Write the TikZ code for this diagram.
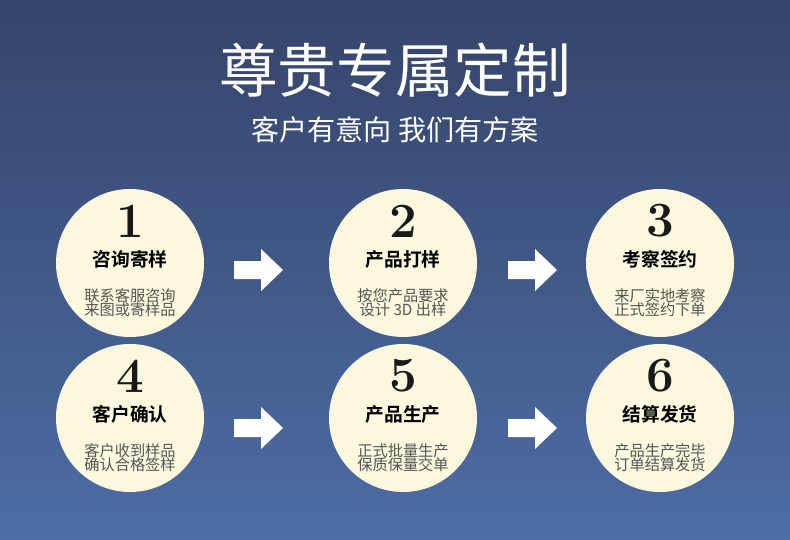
\documentclass[tikz,border=0pt]{standalone}
\usepackage{fontspec}
\usepackage{tikz}
\newfontfamily\cjk{Noto Sans CJK SC}
\newfontfamily\cjkb{Noto Sans CJK SC Bold}
\definecolor{bgtop}{HTML}{35446A}
\definecolor{bgbot}{HTML}{4D6DA5}
\definecolor{cream}{HTML}{FBF8DE}
\definecolor{txtgray}{HTML}{555555}
\tikzset{
  stage/.style={circle, fill=cream, minimum size=4.44cm, inner sep=0pt},
  num/.style={font=\fontsize{42}{42}\bfseries\selectfont, text=black!90},
  head/.style={font=\cjkb\fontsize{16}{16}\selectfont, text=black},
  desc/.style={font=\cjk\fontsize{13}{14}\selectfont, text=txtgray, align=center},
  arr/.style={fill=white}
}
\begin{document}
\begin{tikzpicture}[x=0.03cm,y=-0.03cm]
  %Fundo
  \shade[top color=bgtop, bottom color=bgbot] (0,0) rectangle (790,540);
  \useasboundingbox (0,0) rectangle (790,540);
  %Titulos
  \node[text=white, font=\cjk\fontsize{50}{50}\selectfont] (title) at (395,70) {尊贵专属定制};
  \node[text=white, font=\cjk\fontsize{24}{24}\selectfont] (sub) at (395,130) {客户有意向 我们有方案};
  %Etapas
  \foreach \x/\y/\n/\h/\a/\b [count=\i] in {
    130/263/1/咨询寄样/联系客服咨询/来图或寄样品,
    403/263/2/产品打样/按您产品要求/设计 3D 出样,
    660/263/3/考察签约/来厂实地考察/正式签约下单,
    130/418/4/客户确认/客户收到样品/确认合格签样,
    403/418/5/产品生产/正式批量生产/保质保量交单,
    660/418/6/结算发货/产品生产完毕/订单结算发货}{
    \node[stage] (s\i) at (\x,\y) {};
    \node[num] (n\i) at (\x,\y-42) {\n};
    \node[head] (h\i) at (\x,\y-4) {\h};
    \node[desc] (d\i) at (\x,\y+40) {\a\\[-2pt]\b};
  }
  %Setas
  \foreach \x/\y in {234/270, 508/270, 234/428, 508/428}{
    \fill[arr] (\x,\y-9) -- (\x+27,\y-9) -- (\x+27,\y-21) -- (\x+49,\y)
      -- (\x+27,\y+21) -- (\x+27,\y+9) -- (\x,\y+9) -- cycle;
  }
\end{tikzpicture}
\end{document}
